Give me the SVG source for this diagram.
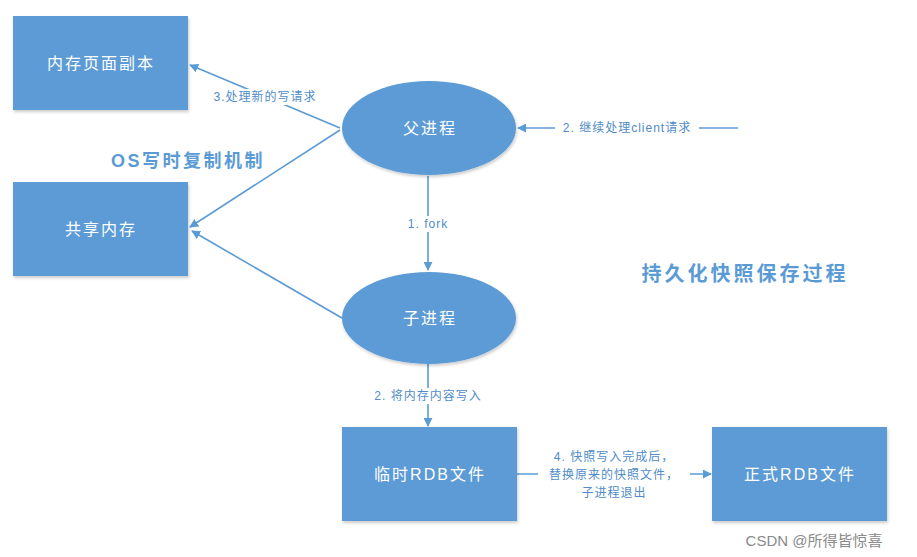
<svg xmlns="http://www.w3.org/2000/svg" width="917" height="557" viewBox="0 0 917 557">
<style>
.node{fill:#5b9bd5;}
.nt{fill:#fff;font-family:"Liberation Sans","Noto Sans CJK SC",sans-serif;font-size:16px;letter-spacing:2px;text-anchor:middle;dominant-baseline:central;}
.edge{stroke:#5b9bd5;stroke-width:1.6;fill:none;marker-end:url(#ah);}
.lbl{fill:#4f8cc9;font-family:"Liberation Sans","Noto Sans CJK SC",sans-serif;font-size:12px;letter-spacing:1px;text-anchor:middle;dominant-baseline:central;}
.lb{fill:#fff;}
.title{fill:#5b9bd5;font-family:"Liberation Sans","Noto Sans CJK SC",sans-serif;font-weight:bold;}
</style>
<defs>
<marker id="ah" viewBox="0 0 10 10" refX="9" refY="5" markerWidth="9" markerHeight="9" markerUnits="userSpaceOnUse" orient="auto"><path d="M0,0 L10,5 L0,10 z" fill="#5b9bd5"/></marker>
<filter id="sh" x="-10%" y="-10%" width="125%" height="130%"><feDropShadow dx="1" dy="2" stdDeviation="1.5" flood-color="#000" flood-opacity="0.2"/></filter>
</defs>
<rect width="917" height="557" fill="#fff"/>
<g id="connectors">
<line class="edge" x1="340" y1="128" x2="190" y2="65"/>
<rect class="lb" x="204" y="89" width="122" height="16"/>
<text class="lbl" x="265" y="97">3.处理新的写请求</text>
<line class="edge" x1="340" y1="130" x2="190" y2="227"/>
<line class="edge" x1="342" y1="318" x2="192" y2="231"/>
<line class="edge" x1="738" y1="128" x2="518" y2="128"/>
<rect class="lb" x="555" y="120" width="144" height="16"/>
<text class="lbl" x="627" y="128">2. 继续处理client请求</text>
<line class="edge" x1="428" y1="176" x2="428" y2="270"/>
<rect class="lb" x="404" y="216" width="48" height="16"/>
<text class="lbl" x="428" y="224">1. fork</text>
<line class="edge" x1="428" y1="364" x2="428" y2="426"/>
<rect class="lb" x="366" y="388" width="124" height="16"/>
<text class="lbl" x="428" y="396">2. 将内存内容写入</text>
<line class="edge" x1="517" y1="474" x2="711" y2="474"/>
<rect class="lb" x="538" y="448" width="152" height="52"/>
<text class="lbl" x="614" y="457">4. 快照写入完成后，</text>
<text class="lbl" x="614" y="475">替换原来的快照文件，</text>
<text class="lbl" x="614" y="493">子进程退出</text>
</g>
<g id="n_mem_copy"><rect class="node" filter="url(#sh)" x="13" y="16" width="175" height="94"/><text class="nt" x="101" y="63">内存页面副本</text></g>
<g id="n_shared"><rect class="node" filter="url(#sh)" x="13" y="182" width="175" height="94"/><text class="nt" x="101" y="229">共享内存</text></g>
<g id="n_parent"><ellipse class="node" filter="url(#sh)" cx="429" cy="128" rx="87" ry="47"/><text class="nt" x="430" y="128">父进程</text></g>
<g id="n_child"><ellipse class="node" filter="url(#sh)" cx="429" cy="318" rx="87" ry="46"/><text class="nt" x="430" y="318">子进程</text></g>
<g id="n_tmp"><rect class="node" filter="url(#sh)" x="342" y="427" width="175" height="94"/><text class="nt" x="430" y="474">临时RDB文件</text></g>
<g id="n_final"><rect class="node" filter="url(#sh)" x="712" y="427" width="175" height="94"/><text class="nt" x="800" y="474">正式RDB文件</text></g>
<text class="title" x="188" y="161" font-size="18" letter-spacing="2.5" text-anchor="middle" dominant-baseline="central">OS写时复制机制</text>
<text class="title" x="745" y="274" font-size="20" letter-spacing="3" text-anchor="middle" dominant-baseline="central">持久化快照保存过程</text>
<text x="814" y="540" fill="#8a8a8a" font-family="'Liberation Sans','Noto Sans CJK SC',sans-serif" font-size="15" text-anchor="middle" dominant-baseline="central">CSDN @所得皆惊喜</text>
</svg>
